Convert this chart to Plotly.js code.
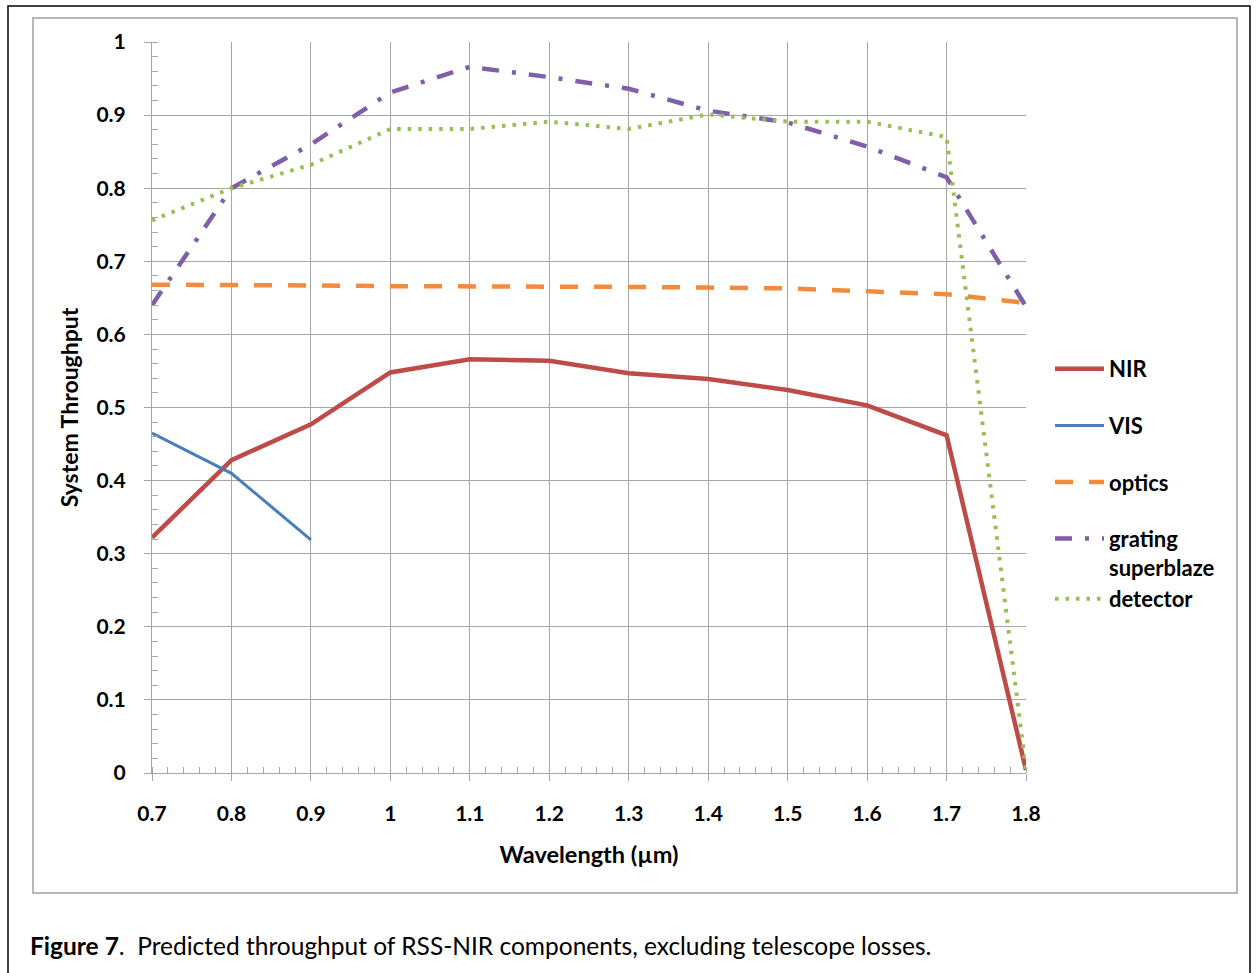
<!DOCTYPE html>
<html>
<head>
<meta charset="utf-8">
<script src="https://cdn.plot.ly/plotly-3.0.1.min.js"></script>
<style>html,body{margin:0;padding:0;background:#fff;}#chart{width:1257px;height:973px;}</style>
</head>
<body>
<div id="chart"></div>
<script>
// Data
const wavelength = [0.7, 0.8, 0.9, 1.0, 1.1, 1.2, 1.3, 1.4, 1.5, 1.6, 1.7, 1.8];
const visWavelength = [0.7, 0.8, 0.9];
const nir = [0.322, 0.428, 0.477, 0.548, 0.566, 0.564, 0.547, 0.539, 0.524, 0.503, 0.462, 0.004];
const vis = [0.465, 0.410, 0.319];
const optics = [0.668, 0.668, 0.667, 0.666, 0.666, 0.666, 0.665, 0.664, 0.663, 0.659, 0.655, 0.643];
const grating = [0.640, 0.800, 0.860, 0.931, 0.966, 0.952, 0.936, 0.906, 0.890, 0.857, 0.815, 0.638];
const detector = [0.756, 0.800, 0.832, 0.881, 0.881, 0.891, 0.881, 0.901, 0.891, 0.891, 0.870, 0.005];
const seriesNames = ["NIR", "VIS", "optics", "grating<br>superblaze", "detector"];

const FONT = "Lato, 'Open Sans', sans-serif";
const GRID = "#a6a6a6";

const traces = [
  {x: wavelength, y: nir, name: seriesNames[0], mode: "lines", legendgroup: "g1",
   line: {color: "#be4b48", width: 4.5}},
  {x: visWavelength, y: vis, name: seriesNames[1], mode: "lines", legendgroup: "g2",
   line: {color: "#4a7ebb", width: 3}},
  {x: wavelength, y: optics, name: seriesNames[2], mode: "lines", legendgroup: "g3",
   line: {color: "#f38a3c", width: 4.5, dash: "18px,16px"}},
  {x: wavelength, y: grating, name: seriesNames[3], mode: "lines", legendgroup: "g4",
   line: {color: "#7f5fa8", width: 4.5, dash: "17px,13px,4px,13px"}},
  {x: wavelength, y: detector, name: seriesNames[4], mode: "lines", legendgroup: "g4",
   line: {color: "#98bf56", width: 4, dash: "3.5px,7px"}}
];

// plot area in px: left 152, right 1026, top 42, bottom 773
const L = 152, R = 1026, T = 42, B = 773;
const px2x = p => (p - L) / (R - L);
const px2y = p => (B - p) / (B - T);

const layout = {
  width: 1257, height: 973,
  margin: {l: L, r: 1257 - R, t: T, b: 973 - B},
  paper_bgcolor: "#ffffff", plot_bgcolor: "#ffffff",
  font: {family: FONT, color: "#000"},
  showlegend: true,
  legend: {
    x: px2x(1050), y: px2y(348), xanchor: "left", yanchor: "top",
    font: {family: FONT, size: 22, color: "#000", weight: "bold"},
    tracegroupgap: 25, valign: "top", itemwidth: 49,
    bgcolor: "rgba(0,0,0,0)"
  },
  xaxis: {
    range: [0.7, 1.8], tick0: 0.7, dtick: 0.1,
    showgrid: true, gridcolor: GRID, gridwidth: 1,
    showline: true, linecolor: GRID, linewidth: 1,
    ticks: "outside", ticklen: 7, tickcolor: GRID, tickwidth: 1,
    ticklabelstandoff: 15,
    minor: {ticks: "inside", dtick: 0.02, ticklen: 6, tickcolor: GRID, tickwidth: 1, showgrid: false},
    tickfont: {family: FONT, size: 21, color: "#000", weight: "bold"},
    zeroline: false,
    title: {text: "Wavelength (µm)", font: {family: FONT, size: 23.5, color: "#000", weight: "bold"}, standoff: 22}
  },
  yaxis: {
    range: [0, 1], tick0: 0, dtick: 0.1,
    showgrid: true, gridcolor: GRID, gridwidth: 1,
    showline: true, linecolor: GRID, linewidth: 1,
    ticks: "outside", ticklen: 7, tickcolor: GRID, tickwidth: 1,
    ticklabelstandoff: 14,
    minor: {ticks: "inside", dtick: 0.02, ticklen: 6, tickcolor: GRID, tickwidth: 1, showgrid: false},
    tickfont: {family: FONT, size: 21, color: "#000", weight: "bold"},
    zeroline: false,
    title: {text: "System Throughput", font: {family: FONT, size: 23, color: "#000", weight: "bold"}, standoff: 11}
  },
  shapes: [
    // outer frame
    {type: "rect", xref: "paper", yref: "paper",
     x0: px2x(8), x1: px2x(1250), y0: px2y(990), y1: px2y(6),
     line: {color: "#000", width: 1.5}, fillcolor: "rgba(0,0,0,0)", layer: "below"},
    // chart border
    {type: "rect", xref: "paper", yref: "paper",
     x0: px2x(33), x1: px2x(1237), y0: px2y(893), y1: px2y(18),
     line: {color: "#a0a0a0", width: 1.5}, fillcolor: "rgba(0,0,0,0)", layer: "below"}
  ],
  annotations: [
    {xref: "paper", yref: "paper", x: px2x(28), y: px2y(945), xanchor: "left", yanchor: "middle",
     showarrow: false, align: "left",
     text: "<b>Figure 7</b>.  Predicted throughput of RSS-NIR components, excluding telescope losses.",
     font: {family: FONT, size: 24.5, color: "#000"}}
  ]
};

Plotly.newPlot("chart", traces, layout, {displayModeBar: false, responsive: false});
</script>
</body>
</html>
